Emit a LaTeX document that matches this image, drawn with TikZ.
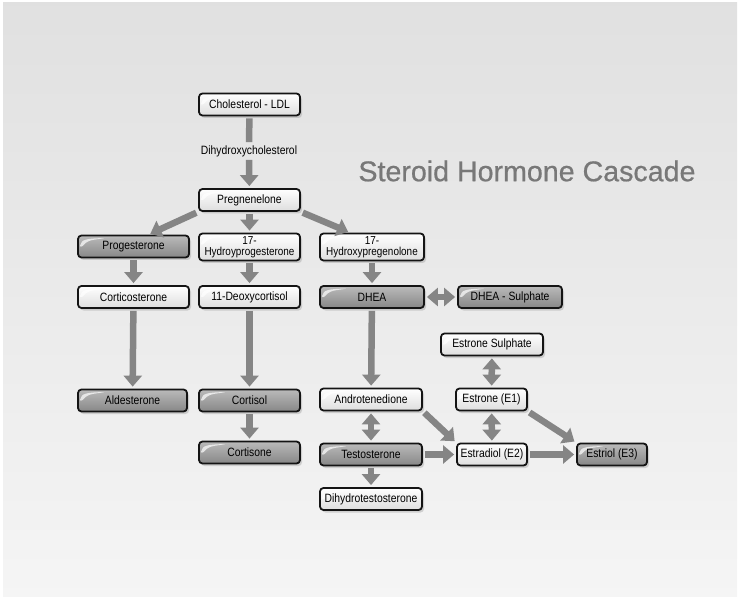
\documentclass[tikz,border=0pt]{standalone}
\usepackage{fontspec}
\setmainfont{Liberation Sans}
\newfontfamily\narrowfont[FakeStretch=0.86]{Liberation Sans}
\newfontfamily\titlefont[FakeBold=0.6]{Liberation Sans}
\usetikzlibrary{arrows.meta,shadows}
\begin{document}
\begin{tikzpicture}[x=1pt,y=-1pt,every node/.style={font=\narrowfont\fontsize{12bp}{12bp}\selectfont,align=center,inner sep=1pt},
box/.style={draw=black!92,line width=1.8pt,rounded corners=3.5pt,minimum width=101pt,minimum height=22pt,drop shadow={opacity=0.3,shadow xshift=2pt,shadow yshift=-2.5pt},
 path picture={\fill[white,opacity=.7] ([shift={(2,13)}]path picture bounding box.north west) .. controls ([shift={(3,4)}]path picture bounding box.north west) and ([shift={(9,3)}]path picture bounding box.north west) .. ([shift={(28,2.5)}]path picture bounding box.north west) .. controls ([shift={(10,5)}]path picture bounding box.north west) .. cycle;}},
lt/.style={box,top color=white,bottom color=black!13},
dk/.style={box,top color=black!27,bottom color=black!47},
two/.style={minimum height=27pt,font=\narrowfont\fontsize{11.5bp}{11bp}\selectfont},
arr/.style={draw=black!48,line width=6.5pt,-{Triangle[width=18pt,length=11pt]},shorten <=2pt,shorten >=2pt},
dbl/.style={arr,{Triangle[width=18pt,length=11pt]}-{Triangle[width=18pt,length=11pt]}}]
\useasboundingbox (0,0) rectangle (740,599);
\fill[top color=black!12,bottom color=black!4] (3,3) rectangle (737,596);
\node (t) [text=black!53,font=\titlefont\fontsize{28.5bp}{28.5bp}\selectfont] at (527,171) {Steroid Hormone Cascade};
\node (ch) [lt] at (249.5,104.5) {Cholesterol - LDL};
\node (dh) at (249,151) {Dihydroxycholesterol};
\node (pr) [lt] at (249.5,200) {Pregnenelone};
\node (pg) [dk,minimum width=111pt] at (133.5,246.5) {Progesterone};
\node (hp) [lt,two] at (249.5,247) {17-\\Hydroyprogesterone};
\node (hx) [lt,two,minimum width=104pt] at (372,247) {17-\\Hydroxypregenolone};
\node (co) [lt,minimum width=111pt] at (133.5,297) {Corticosterone};
\node (dc) [lt] at (249.5,297) {11-Deoxycortisol};
\node (de) [dk,minimum width=104pt] at (372,297) {DHEA};
\node (ds) [dk,minimum width=104pt] at (510,297) {DHEA - Sulphate};
\node (es) [lt,minimum width=102pt] at (492,344.5) {Estrone Sulphate};
\node (al) [dk,minimum width=109pt] at (132.5,400.5) {Aldesterone};
\node (cl) [dk] at (249.5,400.5) {Cortisol};
\node (an) [lt,minimum width=102pt] at (371,399.5) {Androtenedione};
\node (e1) [lt,minimum width=71pt] at (491.5,399.5) {Estrone (E1)};
\node (cn) [dk] at (249.5,452.5) {Cortisone};
\node (ts) [dk,minimum width=102pt] at (371,454.5) {Testosterone};
\node (e2) [lt,minimum width=70pt] at (492,454.5) {Estradiol (E2)};
\node (e3) [dk,minimum width=70pt] at (612,454.5) {Estriol (E3)};
\node (dt) [lt,minimum width=102pt] at (371,499) {Dihydrotestosterone};
\draw[arr,-] (ch)--(dh);\draw[arr] (dh)--(pr);
\draw[arr] (pr.south west)--([xshift=15pt]pg.north);\draw[arr] (pr)--(hp);\draw[arr] (pr.south east)--([xshift=-22pt]hx.north);
\draw[arr] (pg)--(co);\draw[arr] (hp)--(dc);\draw[arr] (hx)--(de);\draw[dbl] (de)--(ds);
\draw[arr] (co)--(al);\draw[arr] (dc)--(cl);\draw[arr] (de)--(an);\draw[dbl] (es)--(e1);
\draw[arr] (cl)--(cn);\draw[dbl] (an)--(ts);\draw[arr] (an.south east)--(e2.north west);\draw[dbl] (e1)--(e2);\draw[arr] (e1.south east)--(e3.north west);
\draw[arr] (ts)--(e2);\draw[arr] (e2)--(e3);\draw[arr] (ts)--(dt);
\end{tikzpicture}
\end{document}
